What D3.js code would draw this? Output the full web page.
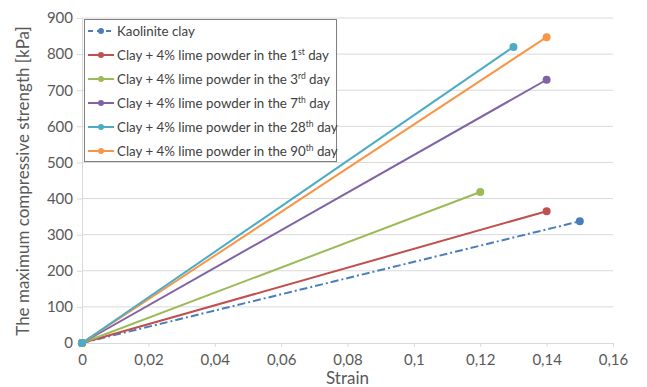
<!DOCTYPE html>
<html><head><meta charset="utf-8">
<script src="https://cdn.jsdelivr.net/npm/d3@7"></script>
<style>body{margin:0;background:#fff;} svg{display:block;font-family:Lato,sans-serif;}</style>
</head><body><svg id="c" width="647" height="387"></svg>
<script>
const seriesNames = ["Kaolinite clay","Clay + 4% lime powder in the 1","Clay + 4% lime powder in the 3","Clay + 4% lime powder in the 7","Clay + 4% lime powder in the 28","Clay + 4% lime powder in the 90"];
const seriesSup = ["","st","rd","th","th","th"];
const seriesColors = ["#4a7ebb","#c0504d","#9bbb59","#8064a2","#4bacc6","#f79646"];
const strainValues = [[0,0.15],[0,0.14],[0,0.12],[0,0.14],[0,0.13],[0,0.14]];
const strengthValues = [[0,337],[0,365],[0,418],[0,729],[0,820],[0,847]];
const xTicks = [0,0.02,0.04,0.06,0.08,0.1,0.12,0.14,0.16];
const yTicks = [0,100,200,300,400,500,600,700,800,900];

const svg = d3.select("#c");
const L=82,R=613,T=18,B=343;
const x = d3.scaleLinear().domain([0,0.16]).range([L,R]);
const y = d3.scaleLinear().domain([0,900]).range([B,T]);
const fmt = d => String(d).replace(".",",");

svg.append("g").selectAll("line").data(yTicks.slice(1)).join("line")
  .attr("x1",L).attr("x2",R).attr("y1",d=>y(d)).attr("y2",d=>y(d))
  .attr("stroke","#d9d9d9").attr("stroke-width",1);

const xa = svg.append("g").attr("transform",`translate(0,${B})`)
  .call(d3.axisBottom(x).tickValues(xTicks).tickFormat(fmt).tickSize(4).tickPadding(7));
const ya = svg.append("g").attr("transform",`translate(${L},0)`)
  .call(d3.axisLeft(y).tickValues(yTicks).tickSize(5).tickPadding(4));
[xa,ya].forEach(a=>{
  a.selectAll("path,line").attr("stroke","#d9d9d9");
  a.selectAll("text").attr("fill","#595959").style("font-size","15px").style("font-family","Lato,sans-serif");
});

svg.append("text").attr("x",(L+R)/2).attr("y",384).attr("text-anchor","middle")
  .attr("fill","#595959").style("font-size","17px").text("Strain");
svg.append("text").attr("transform",`translate(23,${(12+350)/2}) rotate(-90)`).attr("text-anchor","middle")
  .attr("dy","0.35em").attr("fill","#595959").style("font-size","17px").text("The maximum compressive strength [kPa]");

const line = d3.line().x(d=>x(d[0])).y(d=>y(d[1]));
const order=[0,1,2,3,5,4];
order.forEach(i=>{
  const pts = strainValues[i].map((s,j)=>[s,strengthValues[i][j]]);
  svg.append("path").datum(pts).attr("d",line).attr("fill","none")
    .attr("stroke",seriesColors[i]).attr("stroke-width",2)
    .attr("stroke-dasharray", i===0 ? "8,3,2,3" : null);
  svg.append("g").selectAll("circle").data(pts).join("circle")
    .attr("cx",d=>x(d[0])).attr("cy",d=>y(d[1])).attr("r",4).attr("fill",seriesColors[i]);
});

const lg = svg.append("g");
lg.append("rect").attr("x",84.5).attr("y",19.5).attr("width",252).attr("height",142)
  .attr("fill","#fff").attr("stroke","#7f7f7f").attr("stroke-width",1);
seriesNames.forEach((n,i)=>{
  const cy = 31 + i*24;
  lg.append("line").attr("x1",88).attr("x2",114).attr("y1",cy).attr("y2",cy)
    .attr("stroke",seriesColors[i]).attr("stroke-width",2)
    .attr("stroke-dasharray", i===0 ? "5,4" : null);
  lg.append("circle").attr("cx",101).attr("cy",cy).attr("r",3).attr("fill",seriesColors[i]);
  const t = lg.append("text").attr("x",117).attr("y",cy+5).attr("fill","#404040").style("font-size","13.3px");
  t.append("tspan").text(n);
  if(seriesSup[i]){
    t.append("tspan").attr("dy",-5).style("font-size","8.5px").text(seriesSup[i]);
    t.append("tspan").attr("dy",5).text(" day");
  }
});
</script></body></html>
